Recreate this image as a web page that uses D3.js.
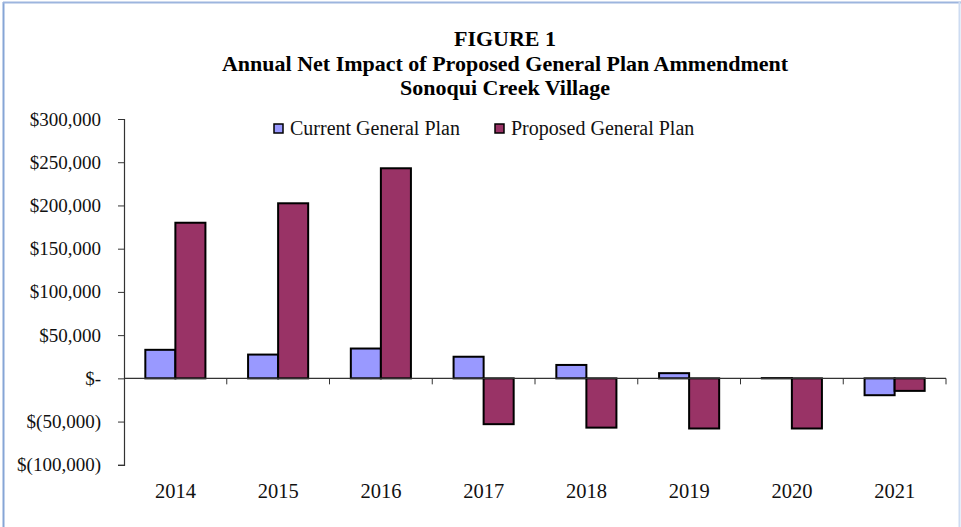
<html>
<script src="https://d3js.org/d3.v7.min.js"></script>
<body style="margin:0;background:#fff"></body>
<script>
const width = 961;
const height = 527;

const years = ['2014','2015','2016','2017','2018','2019','2020','2021'];
const currentPlan = [33000, 27500, 34500, 25000, 15500, 6000, 300, -19500];
const proposedPlan = [180000, 202500, 243000, -53000, -57000, -58000, -58000, -14500];
const seriesNames = ['Current General Plan', 'Proposed General Plan'];
const yTicks = [300000, 250000, 200000, 150000, 100000, 50000, 0, -50000, -100000];

const colors = ['#9999ff', '#993366'];

const svg = d3.select('body').append('svg')
    .attr('width', width)
    .attr('height', height)
    .style('font-family', '"Liberation Serif", "Times New Roman", serif');

// frame around the picture
svg.append('line').attr('x1',3.5).attr('x2',3.5).attr('y1',2).attr('y2',height)
    .attr('stroke','#86a5d6').attr('stroke-width',2);
svg.append('line').attr('x1',3).attr('x2',width).attr('y1',2.5).attr('y2',2.5)
    .attr('stroke','#9db5de').attr('stroke-width',2);
svg.append('line').attr('x1',959.5).attr('x2',959.5).attr('y1',2).attr('y2',height)
    .attr('stroke','#cddcf2').attr('stroke-width',2);

// titles
const titles = ['FIGURE 1', 'Annual Net Impact of Proposed General Plan Ammendment', 'Sonoqui Creek Village'];
svg.selectAll('text.title')
    .data(titles)
    .enter()
    .append('text')
        .attr('class','title')
        .attr('x', 505)
        .attr('y', (d,i)=>46 + i*24.5)
        .attr('text-anchor','middle')
        .attr('font-weight','bold')
        .attr('font-size', 22)
        .text(d=>d);

const x = d3.scaleBand()
    .domain(years)
    .range([124, 946]);

const inner = d3.scaleBand()
    .domain([0,1])
    .range([0, x.bandwidth()])
    .paddingInner(0)
    .paddingOuter(0.71);

const y = d3.scaleLinear()
    .domain([-100000, 300000])
    .range([464.8, 119]);

const fmt = v=>{
    if(v===0) return '$-';
    const s = d3.format(',')(Math.abs(v));
    return v < 0 ? `$(${s})` : `$${s}`;
};

// y axis
const yAxis = svg.append('g')
    .attr('transform','translate(124,0)')
    .call(d3.axisLeft(y).tickValues(yTicks).tickFormat(fmt).tickSize(6).tickPadding(17));
yAxis.select('.domain').attr('stroke','#333').attr('stroke-width',1.2);
yAxis.selectAll('.tick line').attr('stroke','#333');
yAxis.selectAll('.tick text')
    .attr('font-family','"Liberation Serif", "Times New Roman", serif')
    .attr('font-size', 19)
    .attr('fill','#111');

// bars
const rows = years.map((yr,i)=>({year: yr, values: [currentPlan[i], proposedPlan[i]]}));
const groups = svg.selectAll('g.year')
    .data(rows)
    .enter()
    .append('g')
        .attr('class','year')
        .attr('transform', d=>`translate(${x(d.year)},0)`);

groups.selectAll('rect')
    .data(d=>d.values)
    .enter()
    .append('rect')
        .attr('x',(d,i)=>inner(i))
        .attr('width', inner.bandwidth())
        .attr('y', d=>y(Math.max(0,d)))
        .attr('height', d=>Math.abs(y(d)-y(0)))
        .attr('fill',(d,i)=>colors[i])
        .attr('stroke','#000')
        .attr('stroke-width',2);

// x axis along zero
const xAxis = svg.append('g');
xAxis.append('line')
    .attr('x1',124).attr('x2',946)
    .attr('y1',y(0)).attr('y2',y(0))
    .attr('stroke','#333').attr('stroke-width',1.2);
xAxis.selectAll('line.tick')
    .data(years.slice(1).concat(['end']))
    .enter()
    .append('line')
        .attr('class','tick')
        .attr('x1',(d,i)=>124 + (i+1)*x.step())
        .attr('x2',(d,i)=>124 + (i+1)*x.step())
        .attr('y1',y(0))
        .attr('y2',y(0)+6)
        .attr('stroke','#333');

svg.selectAll('text.year')
    .data(years)
    .enter()
    .append('text')
        .attr('class','year')
        .attr('x', d=>x(d)+x.bandwidth()/2)
        .attr('y', 498)
        .attr('text-anchor','middle')
        .attr('font-size',20.5)
        .attr('fill','#111')
        .text(d=>d);

// legend
const legendX = [274, 495];
const legend = svg.selectAll('g.legend')
    .data(seriesNames)
    .enter()
    .append('g')
        .attr('class','legend')
        .attr('transform',(d,i)=>`translate(${legendX[i]},124)`);
legend.append('rect')
    .attr('width',9).attr('height',9)
    .attr('fill',(d,i)=>colors[i])
    .attr('stroke','#000').attr('stroke-width',1.5);
legend.append('text')
    .attr('x',16)
    .attr('y',11)
    .attr('font-size',20)
    .attr('fill','#111')
    .text(d=>d);
</script>
</html>
